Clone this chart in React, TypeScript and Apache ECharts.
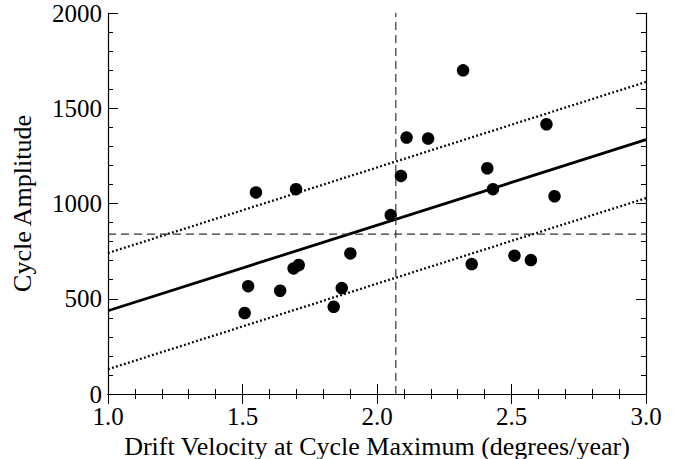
import React, { useEffect, useRef } from "react";
import * as echarts from "echarts";

const velocity = [1.508, 1.521, 1.55, 1.64, 1.69, 1.709, 1.699, 1.839, 1.869, 1.901, 2.051, 2.089, 2.11, 2.19, 2.32, 2.352, 2.41, 2.431, 2.511, 2.572, 2.63, 2.66];
const amplitude = [425, 566, 1058, 542, 659, 677, 1075, 458, 556, 738, 939, 1145, 1346, 1341, 1699, 682, 1185, 1075, 726, 703, 1416, 1038];

const fitX = [1.0, 3.0];
const fitY = [437, 1335];
const upperY = [740, 1638];
const lowerY = [130, 1028];

const meanVelocity = 2.07;
const meanAmplitude = 839;

const xTicks = { min: 1.0, max: 3.0, interval: 0.5 };
const yTicks = { min: 0, max: 2000, interval: 500 };

const FONT = "Liberation Serif";

export default function App() {
  const ref = useRef<HTMLDivElement>(null);
  useEffect(() => {
    if (!ref.current) return;
    const chart = echarts.init(ref.current, null, { renderer: "svg" });
    const axisCommon = {
      type: "value" as const,
      axisLine: { show: true, lineStyle: { color: "#000", width: 1.2 } },
      axisTick: { show: true, inside: true, length: 10, lineStyle: { color: "#000", width: 1 } },
      minorTick: { show: true, splitNumber: 5, length: 5, lineStyle: { color: "#000", width: 1 } },
      splitLine: { show: false },
      minorSplitLine: { show: false },
    };
    const xAx = {
      ...axisCommon,
      min: xTicks.min,
      max: xTicks.max,
      interval: xTicks.interval,
    };
    const yAx = {
      ...axisCommon,
      min: yTicks.min,
      max: yTicks.max,
      interval: yTicks.interval,
    };
    const lineData = (xs: number[], ys: number[]) => xs.map((x, i) => [x, ys[i]]);
    chart.setOption({
      animation: false,
      grid: { left: 108, right: 32, top: 13, bottom: 65, outerBoundsMode: "none", containLabel: false },
      xAxis: [
        {
          ...xAx,
          position: "bottom",
          name: "Drift Velocity at Cycle Maximum (degrees/year)",
          nameLocation: "middle",
          nameGap: 39,
          nameMoveOverlap: false,
          nameTextStyle: { fontFamily: FONT, fontSize: 26, color: "#000" },
          axisLabel: {
            fontFamily: FONT,
            fontSize: 25,
            color: "#000",
            margin: 10,
            formatter: (v: number) => v.toFixed(1),
          },
        },
        { ...xAx, position: "top", axisLabel: { show: false } },
      ],
      yAxis: [
        {
          ...yAx,
          position: "left",
          name: "Cycle Amplitude",
          nameLocation: "middle",
          nameRotate: 90,
          nameGap: 73,
          nameMoveOverlap: false,
          nameTextStyle: { fontFamily: FONT, fontSize: 26, color: "#000" },
          axisLabel: {
            fontFamily: FONT,
            fontSize: 25,
            color: "#000",
            margin: 6,
            formatter: (v: number) => String(v),
          },
        },
        { ...yAx, position: "right", axisLabel: { show: false } },
      ],
      series: [
        {
          type: "line",
          data: lineData(fitX, upperY),
          symbol: "none",
          lineStyle: { color: "#000", width: 2.3, type: [1.8, 2.4] },
          silent: true,
        },
        {
          type: "line",
          data: lineData(fitX, lowerY),
          symbol: "none",
          lineStyle: { color: "#000", width: 2.3, type: [1.8, 2.4] },
          silent: true,
        },
        {
          type: "line",
          data: lineData(fitX, fitY),
          symbol: "none",
          lineStyle: { color: "#000", width: 2.8 },
          silent: true,
        },
        {
          type: "line",
          data: [
            [meanVelocity, yTicks.min],
            [meanVelocity, yTicks.max],
          ],
          symbol: "none",
          lineStyle: { color: "#333", width: 1.2, type: [8, 5] },
          silent: true,
        },
        {
          type: "line",
          data: [
            [xTicks.min, meanAmplitude],
            [xTicks.max, meanAmplitude],
          ],
          symbol: "none",
          lineStyle: { color: "#333", width: 1.2, type: [8, 5] },
          silent: true,
        },
        {
          type: "scatter",
          data: lineData(velocity, amplitude),
          symbol: "circle",
          symbolSize: 12.5,
          itemStyle: { color: "#000", opacity: 1 },
        },
      ],
    });
    return () => chart.dispose();
  }, []);
  return (
    <div
      ref={ref}
      style={{ position: "fixed", left: 0, top: 0, width: 678, height: 459, background: "#fff" }}
    />
  );
}
